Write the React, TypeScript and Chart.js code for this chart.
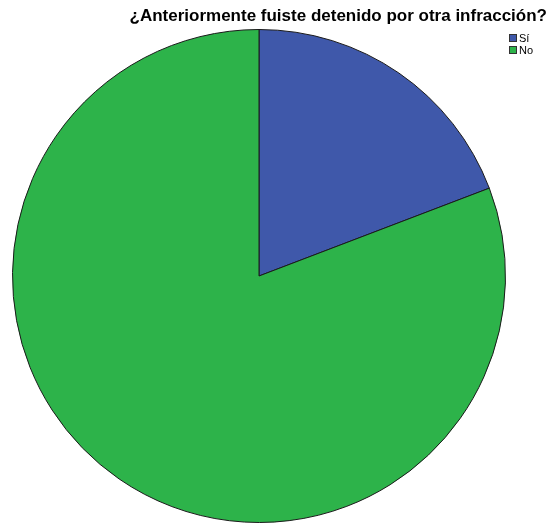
import React, { useEffect, useRef } from "react";
import { Chart, registerables } from "chart.js";

Chart.register(...registerables);

const titleText = "¿Anteriormente fuiste detenido por otra infracción?";
const categories = ["Sí", "No"];
const values = [19.2, 80.8];
const colors = ["#3F58AA", "#2DB34A"];

const overlayPlugin = {
  id: "overlay",
  afterDraw(chart: any) {
    const ctx = chart.ctx;
    ctx.save();
    ctx.fillStyle = "#000";
    ctx.font = "bold 17px 'Liberation Sans', Arial, sans-serif";
    ctx.textAlign = "right";
    ctx.textBaseline = "middle";
    ctx.fillText(titleText, 547, 16);
    ctx.font = "11px 'Liberation Sans', Arial, sans-serif";
    ctx.textAlign = "left";
    categories.forEach((c, i) => {
      const y = 34 + i * 12;
      ctx.fillStyle = colors[i];
      ctx.fillRect(509, y, 8, 8);
      ctx.strokeStyle = "#333";
      ctx.lineWidth = 1;
      ctx.strokeRect(509.5, y + 0.5, 7, 7);
      ctx.fillStyle = "#000";
      ctx.fillText(c, 519, y + 4.5);
    });
    ctx.restore();
  },
};

export default function App() {
  const ref = useRef<HTMLCanvasElement>(null);
  useEffect(() => {
    const chart = new Chart(ref.current!, {
      type: "pie",
      data: {
        labels: categories,
        datasets: [
          {
            data: values,
            backgroundColor: colors,
            borderColor: "#1a1a1a",
            borderWidth: 1,
          },
        ],
      },
      options: {
        animation: false,
        responsive: false,
        layout: { padding: { left: 12, right: 45, top: 29, bottom: 4 } },
        plugins: {
          legend: { display: false },
          title: { display: false },
          tooltip: { enabled: false },
        },
      },
      plugins: [overlayPlugin],
    });
    return () => chart.destroy();
  }, []);
  return (
    <div style={{ position: "fixed", left: 0, top: 0, width: 551, height: 527, background: "#fff" }}>
      <canvas ref={ref} width={551} height={527} />
    </div>
  );
}
